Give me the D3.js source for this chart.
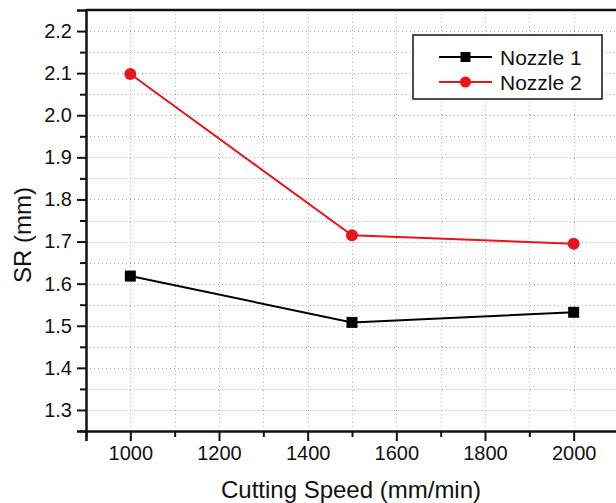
<!DOCTYPE html>
<html>
<head>
<meta charset="utf-8">
<script src="https://cdn.jsdelivr.net/npm/d3@7"></script>
<style>
  body { margin: 0; background: #fff; }
  text { font-family: "Liberation Sans", Arial, sans-serif; fill: #111; }
</style>
</head>
<body>
<script>
// values
var speed = [1000, 1500, 2000];
var nozzle1 = [1.618, 1.508, 1.532];
var nozzle2 = [2.098, 1.715, 1.695];
var seriesNames = ["Nozzle 1", "Nozzle 2"];
var seriesColors = ["#000000", "#e8141c"];
var xTicks = [1000, 1200, 1400, 1600, 1800, 2000];
var yTicks = [1.3, 1.4, 1.5, 1.6, 1.7, 1.8, 1.9, 2.0, 2.1, 2.2];

function chart() {
  var W = 616, H = 503;
  var margin = {top: 10, left: 86, bottom: 72, right: -2};
  var width = W - margin.left - margin.right,
      height = H - margin.top - margin.bottom;

  var svg = d3.select("body").append("svg")
      .attr("width", W).attr("height", H);
  var g = svg.append("g")
      .attr("transform", "translate(" + margin.left + "," + margin.top + ")");

  var x = d3.scaleLinear().domain([900, 2100]).range([0, width]);
  var y = d3.scaleLinear().domain([1.25, 2.25]).range([height, 0]);

  // dotted grid, on major and minor steps
  var xGrid = d3.range(1000, 2100, 100);
  var yGrid = d3.range(1.3, 2.249, 0.05);
  var grid = g.append("g").attr("shape-rendering", "crispEdges")
      .attr("stroke", "#aaaaaa").attr("stroke-width", 1)
      .attr("stroke-dasharray", "1,3");
  grid.selectAll(".gx").data(xGrid).enter().append("line")
      .attr("x1", d => Math.round(x(d)) + 0.5).attr("x2", d => Math.round(x(d)) + 0.5)
      .attr("y1", 0).attr("y2", height);
  grid.selectAll(".gy").data(yGrid).enter().append("line")
      .attr("x1", 0).attr("x2", width)
      .attr("y1", d => Math.round(y(d)) + 0.5).attr("y2", d => Math.round(y(d)) + 0.5);

  // minor ticks
  var xMinor = d3.axisBottom(x).tickValues(d3.range(900, 2100, 200)).tickSize(6).tickFormat("");
  var yMinor = d3.axisLeft(y).tickValues(d3.range(1.25, 2.25, 0.1)).tickSize(6).tickFormat("");

  var xAxis = d3.axisBottom(x).tickValues(xTicks).tickSize(10).tickPadding(5).tickFormat(d3.format("d"));
  var yAxis = d3.axisLeft(y).tickValues(yTicks).tickSize(9).tickPadding(5).tickFormat(d3.format(".1f"));

  g.append("g").attr("transform", "translate(0," + height + ")").call(xAxis);
  g.append("g").attr("transform", "translate(0," + height + ")").call(xMinor)
      .select(".domain").remove();
  g.append("g").call(yAxis);
  g.append("g").call(yMinor).select(".domain").remove();

  g.selectAll(".tick line").attr("stroke", "#111").attr("stroke-width", 2);
  g.selectAll(".domain").attr("stroke", "#111").attr("stroke-width", 2.5);
  g.selectAll(".tick text").style("font-size", "20px").attr("fill", "#111");

  // top frame
  g.append("line").attr("x1", 0).attr("x2", width).attr("y1", 0).attr("y2", 0)
      .attr("stroke", "#111").attr("stroke-width", 2.5);

  // axis titles
  svg.append("text")
      .attr("x", 351).attr("y", 498)
      .attr("text-anchor", "middle").style("font-size", "24px")
      .text("Cutting Speed (mm/min)");
  svg.append("text")
      .attr("transform", "translate(31,235) rotate(-90)")
      .attr("text-anchor", "middle").style("font-size", "24px")
      .text("SR (mm)");

  var line = d3.line().x(d => x(d[0])).y(d => y(d[1]));
  var series = [nozzle1, nozzle2];

  series.forEach(function(vals, i) {
    var pts = speed.map((s, j) => [s, vals[j]]);
    g.append("path").datum(pts)
        .attr("d", line).attr("fill", "none")
        .attr("stroke", seriesColors[i]).attr("stroke-width", 2);
    if (i === 0) {
      g.selectAll(".sq").data(pts).enter().append("rect")
          .attr("x", d => x(d[0]) - 5.5).attr("y", d => y(d[1]) - 5.5)
          .attr("width", 11).attr("height", 11).attr("fill", seriesColors[i]);
    } else {
      g.selectAll(".ci").data(pts).enter().append("circle")
          .attr("cx", d => x(d[0])).attr("cy", d => y(d[1]))
          .attr("r", 6).attr("fill", seriesColors[i]);
    }
  });

  // legend
  var lg = svg.append("g").attr("transform", "translate(413,35)");
  lg.append("rect").attr("width", 189).attr("height", 64)
      .attr("fill", "#fff").attr("stroke", "#111").attr("stroke-width", 1.5);
  seriesNames.forEach(function(name, i) {
    var ly = 22 + i * 25;
    lg.append("line").attr("x1", 26).attr("x2", 79).attr("y1", ly).attr("y2", ly)
        .attr("stroke", seriesColors[i]).attr("stroke-width", 2);
    if (i === 0) {
      lg.append("rect").attr("x", 47.5).attr("y", ly - 5).attr("width", 10).attr("height", 10)
          .attr("fill", seriesColors[i]);
    } else {
      lg.append("circle").attr("cx", 52.5).attr("cy", ly).attr("r", 5.5).attr("fill", seriesColors[i]);
    }
    lg.append("text").attr("x", 87).attr("y", ly + 7.5)
        .style("font-size", "21px").text(name);
  });
}

window.onload = chart;
</script>
</body>
</html>
